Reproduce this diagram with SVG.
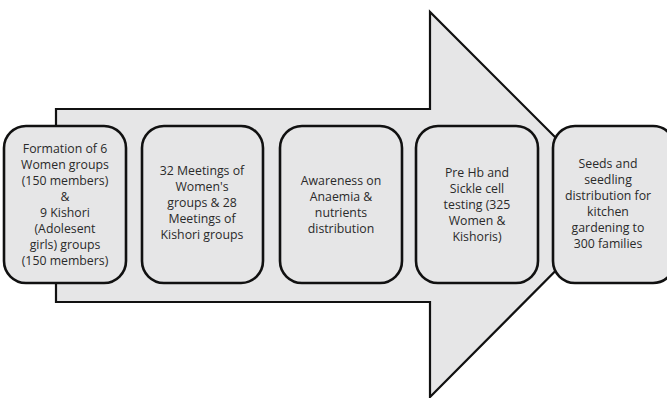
<svg xmlns="http://www.w3.org/2000/svg" width="667" height="398" viewBox="0 0 667 398">
<style>
.arrow{fill:#e6e6e7;stroke:#111;stroke-width:2.2;stroke-linejoin:miter}
.box{fill:#e6e6e7;stroke:#111;stroke-width:2.6}
.t{font-family:"Open Sans","Lato",sans-serif;font-size:12.3px;fill:#2a2a2a;text-anchor:middle}
</style>
<rect width="667" height="398" fill="#fff"/>
<g id="connectors">
<path class="arrow" d="M56,109 L430,109 L430,12 L622,204 L430,397 L430,302 L56,302 Z"/>
</g>
<g id="n1">
<rect class="box" x="4" y="126" width="122" height="157" rx="22"/>
<text class="t" x="65" y="153">Formation of 6<tspan x="65" dy="16">Women groups</tspan><tspan x="65" dy="16">(150 members)</tspan><tspan x="65" dy="16">&amp;</tspan><tspan x="65" dy="16">9 Kishori</tspan><tspan x="65" dy="16">(Adolesent</tspan><tspan x="65" dy="16">girls) groups</tspan><tspan x="65" dy="16">(150 members)</tspan></text>
</g>
<g id="n2">
<rect class="box" x="142" y="126" width="121" height="157" rx="22"/>
<text class="t" x="202" y="175">32 Meetings of<tspan x="202" dy="16">Women's</tspan><tspan x="202" dy="16">groups &amp; 28</tspan><tspan x="202" dy="16">Meetings of</tspan><tspan x="202" dy="16">Kishori groups</tspan></text>
</g>
<g id="n3">
<rect class="box" x="280" y="126" width="122" height="157" rx="22"/>
<text class="t" x="341" y="185">Awareness on<tspan x="341" dy="16">Anaemia &amp;</tspan><tspan x="341" dy="16">nutrients</tspan><tspan x="341" dy="16">distribution</tspan></text>
</g>
<g id="n4">
<rect class="box" x="416" y="126" width="122" height="157" rx="22"/>
<text class="t" x="477" y="177">Pre Hb and<tspan x="477" dy="16">Sickle cell</tspan><tspan x="477" dy="16">testing (325</tspan><tspan x="477" dy="16">Women &amp;</tspan><tspan x="477" dy="16">Kishoris)</tspan></text>
</g>
<g id="n5">
<rect class="box" x="553" y="126" width="122" height="157" rx="22"/>
<text class="t" x="608" y="168">Seeds and<tspan x="608" dy="16">seedling</tspan><tspan x="608" dy="16">distribution for</tspan><tspan x="608" dy="16">kitchen</tspan><tspan x="608" dy="16">gardening to</tspan><tspan x="608" dy="16">300 families</tspan></text>
</g>
</svg>
